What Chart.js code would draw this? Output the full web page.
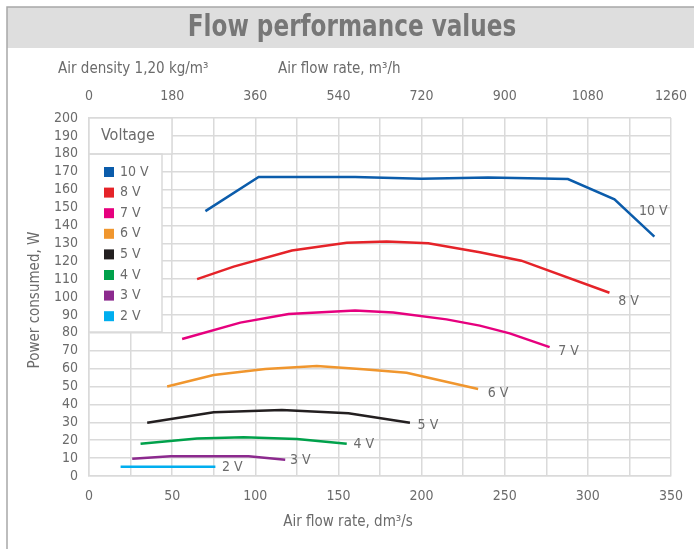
<!DOCTYPE html>
<html>
<head>
<meta charset="utf-8">
<script src="https://cdn.jsdelivr.net/npm/chart.js@4.4.1/dist/chart.umd.min.js"></script>
<style>
html, body { margin: 0; padding: 0; background: #fff; }
canvas { display: block; }
</style>
</head>
<body>
<canvas id="flowChart" width="694" height="549"></canvas>
<script>
// Flow performance: air flow rate (dm3/s) vs power consumed (W)
const voltages = ['10 V', '8 V', '7 V', '6 V', '5 V', '4 V', '3 V', '2 V'];
const colors = ['#0b5cab', '#e52329', '#e6007e', '#f0962e', '#231f20', '#00a14b', '#8c2a8e', '#00aeef'];

const flow10 = [70, 102, 160, 200, 240, 288, 316, 340];
const power10 = [148, 167, 167, 166, 166.7, 165.9, 154.6, 133.7];
const flow8 = [65, 87, 122, 155, 179, 204, 235, 260, 313];
const power8 = [110, 117, 126, 130.3, 131, 130, 125, 120.3, 102.4];
const flow7 = [56, 91, 120, 160, 183, 215, 235, 253, 277];
const power7 = [76.5, 85.7, 90.5, 92.4, 91.4, 87.5, 84, 79.7, 72];
const flow6 = [47, 75, 106, 137, 165, 191, 234];
const power6 = [50, 56.4, 59.8, 61.5, 59.6, 57.7, 48.6];
const flow5 = [35, 75, 116, 156, 193];
const power5 = [29.8, 35.6, 36.9, 35, 29.8];
const flow4 = [31, 65, 93, 125, 155];
const power4 = [18, 21, 21.6, 20.7, 18];
const flow3 = [26, 49, 96, 118];
const power3 = [9.7, 11, 11, 9.1];
const flow2 = [19, 76];
const power2 = [5.2, 5.2];

const flows = [flow10, flow8, flow7, flow6, flow5, flow4, flow3, flow2];
const powers = [power10, power8, power7, power6, power5, power4, power3, power2];

// pixel offset of each end label from the last point of its line
const labelOffsets = [[-1, -25], [19, 9], [19, 4], [20, 4], [18, 3], [17, 1], [15, 1], [17, 1]];

const FONT = "'Liberation Sans Narrow', 'DejaVu Sans Condensed', sans-serif";
const TEXT = '#6b6b6b';
const GRID = '#dadada';

Chart.defaults.font.family = FONT;
Chart.defaults.color = TEXT;

const datasets = voltages.map((v, i) => ({
    label: v,
    data: flows[i].map((f, j) => ({ x: f, y: powers[i][j] })),
    borderColor: colors[i],
    backgroundColor: colors[i],
    borderWidth: 2.5,
    showLine: true,
    pointRadius: 0,
    tension: 0
}));

// no extra side padding for the first/last tick label
const fixWidth = s => { s.paddingLeft = 0; s.paddingRight = 0; };

// draws the title band, side texts, end labels and the legend box
const decorations = {
    id: 'decorations',
    beforeDraw(chart) {
        const ctx = chart.ctx;
        ctx.save();
        ctx.fillStyle = '#fff';
        ctx.fillRect(0, 0, chart.width, chart.height);
        ctx.fillStyle = '#dedede';
        ctx.fillRect(7, 7, chart.width - 7, 41);
        ctx.strokeStyle = '#a8a8a8';
        ctx.lineWidth = 1.5;
        ctx.beginPath();
        ctx.moveTo(7, chart.height);
        ctx.lineTo(7, 7);
        ctx.lineTo(chart.width, 7);
        ctx.stroke();
        ctx.fillStyle = '#777';
        ctx.font = 'bold 31px ' + FONT;
        ctx.textAlign = 'center';
        ctx.textBaseline = 'middle';
        ctx.save();
        ctx.translate(352, 28);
        ctx.scale(0.83, 1);
        ctx.fillText('Flow performance values', 0, 0);
        ctx.restore();
        ctx.fillStyle = TEXT;
        ctx.font = '15px ' + FONT;
        ctx.textAlign = 'left';
        ctx.fillText('Air density 1,20 kg/m³', 58, 69);
        ctx.fillText('Air flow rate, m³/h', 278, 69);
        ctx.restore();
    },
    afterDraw(chart) {
        const ctx = chart.ctx;
        const xs = chart.scales.x, ys = chart.scales.y;
        ctx.save();
        ctx.fillStyle = TEXT;
        ctx.textBaseline = 'middle';

        // axis titles
        ctx.font = '15px ' + FONT;
        ctx.textAlign = 'center';
        ctx.fillText('Air flow rate, dm³/s', 348, 522);
        ctx.save();
        ctx.translate(35, 300);
        ctx.rotate(-Math.PI / 2);
        ctx.fillText('Power consumed, W', 0, 0);
        ctx.restore();

        // end labels
        ctx.font = '14px ' + FONT;
        voltages.forEach((v, i) => {
            const n = flows[i].length - 1;
            const px = xs.getPixelForValue(flows[i][n]) + labelOffsets[i][0];
            const py = ys.getPixelForValue(powers[i][n]) + labelOffsets[i][1];
            ctx.fillText(v, px, py);
        });

        // legend box
        ctx.fillStyle = '#fff';
        ctx.fillRect(89, 118, 83, 36);
        ctx.fillRect(89, 154, 73, 178);
        ctx.strokeStyle = GRID;
        ctx.lineWidth = 1.5;
        ctx.strokeRect(89, 118, 83, 36);
        ctx.strokeRect(89, 154, 73, 178);
        ctx.fillStyle = TEXT;
        ctx.font = '16px ' + FONT;
        ctx.textAlign = 'left';
        ctx.fillText('Voltage', 101, 136);
        ctx.font = '14px ' + FONT;
        voltages.forEach((v, i) => {
            const cy = 172 + i * 20.6;
            ctx.fillStyle = colors[i];
            ctx.fillRect(104, cy - 5, 10, 10);
            ctx.fillStyle = TEXT;
            ctx.fillText(v, 120, cy);
        });
        ctx.restore();
    }
};

new Chart(document.getElementById('flowChart'), {
    type: 'scatter',
    data: { datasets: datasets },
    options: {
        responsive: false,
        animation: false,
        devicePixelRatio: 1,
        layout: { padding: { left: 0, right: 23, top: 0, bottom: 0 } },
        plugins: {
            legend: { display: false },
            tooltip: { enabled: false }
        },
        scales: {
            x: {
                type: 'linear',
                position: 'bottom',
                min: 0,
                max: 350,
                ticks: {
                    stepSize: 25,
                    autoSkip: false,
                    maxRotation: 0,
                    padding: 12,
                    font: { size: 14 },
                    callback: v => (v % 50 === 0 ? String(v) : '')
                },
                grid: { color: GRID, lineWidth: 1.5, drawTicks: false },
                border: { color: GRID, width: 1.5 },
                afterFit: s => { s.height = 73; fixWidth(s); }
            },
            x2: {
                type: 'linear',
                axis: 'x',
                position: 'top',
                min: 0,
                max: 1260,
                ticks: {
                    stepSize: 180,
                    autoSkip: false,
                    maxRotation: 0,
                    padding: 13,
                    font: { size: 14 },
                    callback: v => String(v)
                },
                grid: { display: false, drawTicks: false },
                border: { display: false },
                afterFit: s => { s.height = 118; fixWidth(s); }
            },
            y: {
                min: 0,
                max: 200,
                ticks: {
                    stepSize: 10,
                    autoSkip: false,
                    padding: 11,
                    font: { size: 14 }
                },
                grid: { color: GRID, lineWidth: 1.5, drawTicks: false },
                border: { color: GRID, width: 1.5 },
                afterFit: s => { s.width = 89; s.paddingTop = 0; s.paddingBottom = 0; }
            }
        }
    },
    plugins: [decorations]
});
</script>
</body>
</html>
